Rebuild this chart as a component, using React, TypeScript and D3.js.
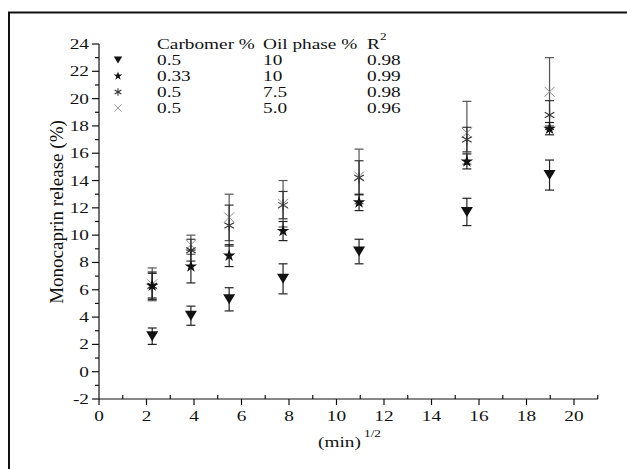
import React from 'react';
import * as d3 from 'd3';

// sqrt of sampling time (min^1/2)
const sqrtTime = [2.24, 3.87, 5.48, 7.75, 10.95, 15.49, 18.97];

// release (%) and error per formulation
const triMean = [2.6, 4.1, 5.3, 6.8, 8.8, 11.7, 14.4];
const triErr = [0.6, 0.7, 0.85, 1.1, 0.9, 1.0, 1.1];
const starMean = [6.3, 7.7, 8.5, 10.3, 12.4, 15.4, 17.8];
const starErr = [1.0, 1.2, 0.8, 0.7, 0.6, 0.55, 0.45];
const astMean = [6.3, 8.9, 10.7, 12.2, 14.2, 17.0, 18.8];
const astErr = [0.9, 0.8, 1.5, 1.0, 1.25, 0.9, 1.05];
const crossMean = [6.4, 9.3, 11.3, 12.3, 14.3, 17.5, 20.5];
const crossErr = [1.2, 0.7, 1.7, 1.7, 2.0, 2.3, 2.5];

const carbomer = ['0.5', '0.33', '0.5', '0.5'];
const oilPhase = ['10', '10', '7.5', '5.0'];
const rSquared = ['0.98', '0.99', '0.98', '0.96'];

const W = 627;
const H = 469;
const FONT = '"Liberation Serif", "Times New Roman", serif';
const FS = 14.5;
const SX = 1.33; // glyphs in the source are wide

const x = d3.scaleLinear().domain([0, 21]).range([99, 597.75]);
const y = d3.scaleLinear().domain([-2, 24]).range([399, 44]);

const majorX = d3.range(0, 21, 2);
const minorX = d3.range(1, 22, 2);
const majorY = d3.range(-2, 25, 2);
const minorY = d3.range(-1, 24, 2);

type Kind = 'tri' | 'star' | 'ast' | 'cross';

const Marker = ({ kind, s = 1, color }: { kind: Kind; s?: number; color: string }) => {
  if (kind === 'tri') {
    const w = 12 * s, h = 10 * s;
    return <path d={`M${-w / 2},${-h / 2}L${w / 2},${-h / 2}L0,${h / 2}Z`} fill={color} />;
  }
  if (kind === 'star') {
    return <path d={d3.symbol(d3.symbolStar, 48 * s * s)() || ''} fill={color} />;
  }
  if (kind === 'ast') {
    const r = 5.5 * s;
    const a = [90, 30, 150].map((d) => (d * Math.PI) / 180);
    return (
      <g stroke={color} strokeWidth={1.1}>
        {a.map((t, i) => (
          <line key={i} x1={-r * Math.cos(t)} y1={-r * Math.sin(t)} x2={r * Math.cos(t)} y2={r * Math.sin(t)} />
        ))}
      </g>
    );
  }
  const r = 5 * s;
  return (
    <g stroke={color} strokeWidth={1}>
      <line x1={-r} y1={-r} x2={r} y2={r} />
      <line x1={-r} y1={r} x2={r} y2={-r} />
    </g>
  );
};

const series: { kind: Kind; mean: number[]; err: number[]; color: string; bar: string }[] = [
  { kind: 'cross', mean: crossMean, err: crossErr, color: '#8a8a8a', bar: '#555' },
  { kind: 'ast', mean: astMean, err: astErr, color: '#333', bar: '#333' },
  { kind: 'star', mean: starMean, err: starErr, color: '#111', bar: '#222' },
  { kind: 'tri', mean: triMean, err: triErr, color: '#111', bar: '#222' },
];

const legendKinds: Kind[] = ['tri', 'star', 'ast', 'cross'];
const legendColors = ['#111', '#111', '#333', '#999'];

const T = ({ x0, y0, anchor = 'start', size = FS, children }: any) => (
  <text
    transform={`translate(${x0},${y0}) scale(${SX},1)`}
    textAnchor={anchor}
    fontFamily={FONT}
    fontSize={size}
    fill="#111"
  >
    {children}
  </text>
);

export default function App() {
  const cap = 4.5;
  return (
    <div style={{ position: 'fixed', left: 0, top: 0 }}>
      <svg width={W} height={H} style={{ display: 'block', background: '#fff' }}>
        <rect x={9} y={12.5} width={640} height={500} fill="none" stroke="#111" strokeWidth={2} />

        {/* y axis */}
        <line x1={x(0)} x2={x(0)} y1={y(-2)} y2={y(24)} stroke="#111" strokeWidth={1.2} />
        {majorY.map((v) => (
          <g key={'my' + v}>
            <line x1={x(0) - 7} x2={x(0)} y1={y(v)} y2={y(v)} stroke="#111" strokeWidth={1.2} />
            <T x0={x(0) - 10} y0={y(v) + 5} anchor="end">{v}</T>
          </g>
        ))}
        {minorY.map((v) => (
          <line key={'ny' + v} x1={x(0) - 4} x2={x(0)} y1={y(v)} y2={y(v)} stroke="#111" strokeWidth={1.2} />
        ))}

        {/* x axis */}
        <line x1={x(0)} x2={x(21)} y1={y(-2)} y2={y(-2)} stroke="#111" strokeWidth={1.2} />
        {majorX.map((v) => (
          <g key={'mx' + v}>
            <line x1={x(v)} x2={x(v)} y1={y(-2)} y2={y(-2) + 6} stroke="#111" strokeWidth={1.2} />
            <T x0={x(v)} y0={421} anchor="middle">{v}</T>
          </g>
        ))}
        {minorX.map((v) => (
          <line key={'nx' + v} x1={x(v)} x2={x(v)} y1={y(-2)} y2={y(-2) - 4} stroke="#111" strokeWidth={1.2} />
        ))}

        {/* axis titles */}
        <text
          transform={`translate(63,212) rotate(-90)`}
          textAnchor="middle"
          fontFamily={FONT}
          fontSize={19}
          fill="#111"
        >
          Monocaprin release (%)
        </text>
        <T x0={318} y0={447}>(min)</T>
        <T x0={364} y0={437} size={10}>1/2</T>

        {/* data */}
        {series.map((s) => (
          <g key={s.kind}>
            {sqrtTime.map((t, i) => {
              const cx = x(t);
              const y1 = y(s.mean[i] + s.err[i]);
              const y2 = y(s.mean[i] - s.err[i]);
              return (
                <g key={i} stroke={s.bar} strokeWidth={1.2}>
                  <line x1={cx} x2={cx} y1={y1} y2={y2} />
                  <line x1={cx - cap} x2={cx + cap} y1={y1} y2={y1} />
                  <line x1={cx - cap} x2={cx + cap} y1={y2} y2={y2} />
                </g>
              );
            })}
            {sqrtTime.map((t, i) => (
              <g key={'m' + i} transform={`translate(${x(t)},${y(s.mean[i])})`}>
                <Marker kind={s.kind} color={s.color} />
              </g>
            ))}
          </g>
        ))}

        {/* legend */}
        <T x0={157} y0={49}>Carbomer %</T>
        <T x0={263} y0={49}>Oil phase %</T>
        <T x0={367} y0={49}>R</T>
        <T x0={380} y0={40} size={10}>2</T>
        {legendKinds.map((k, i) => {
          const yy = 60 + i * 16;
          return (
            <g key={k}>
              <g transform={`translate(118,${yy})`}>
                <Marker kind={k} s={0.7} color={legendColors[i]} />
              </g>
              <T x0={157} y0={yy + 5}>{carbomer[i]}</T>
              <T x0={263} y0={yy + 5}>{oilPhase[i]}</T>
              <T x0={367} y0={yy + 5}>{rSquared[i]}</T>
            </g>
          );
        })}
      </svg>
    </div>
  );
}
